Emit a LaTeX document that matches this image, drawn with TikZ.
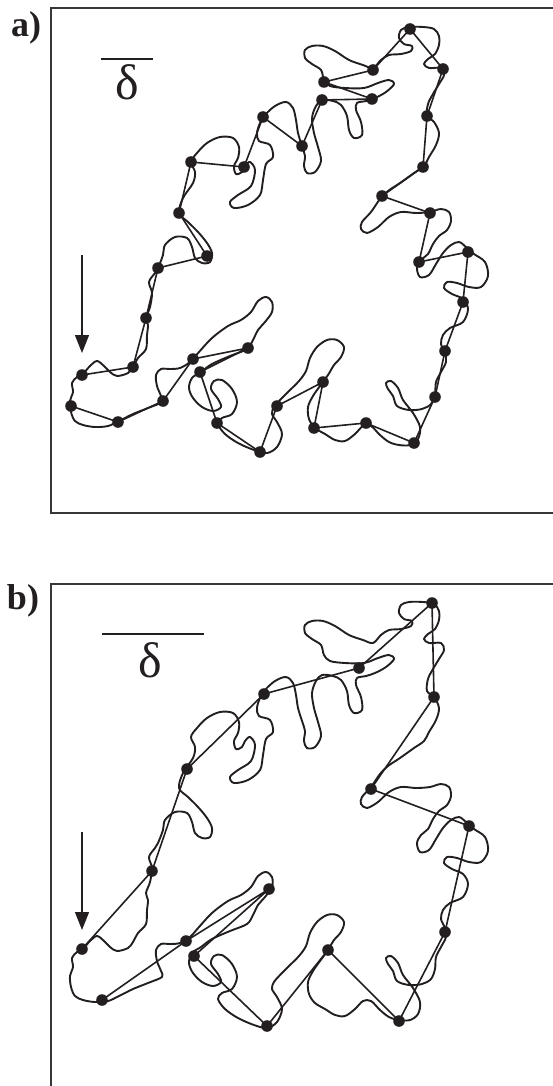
\documentclass[tikz,border=0pt]{standalone}
\usepackage{fontspec}
\setmainfont{Liberation Serif}
\usetikzlibrary{arrows.meta}
\definecolor{ink}{RGB}{35,31,32}
\definecolor{frame}{RGB}{55,55,55}
% closed outline of the coast, traced once and reused in both panels
\def\coastline{(82,375) (90,366) (97,361) (104,366) (110,372) (117,376) (128,373) (133,367)
(138,358) (146,349) (147,335) (148,325) (146,318) (150,307) (152,293) (149,282) (155,273) (158,268)
(163,255) (165,245) (175,237) (187,238) (192,247) (195,258) (202,263) (210,262) (212,253) (207,243)
(198,232) (188,222) (179,213) (183,198) (193,183) (195,172) (191,162)
(197,153) (207,143) (220,137) (233,138) (239,147) (238,158) (234,166) (236,174) (242,172) (245,166)
(250,162) (255,170) (251,186) (238,195) (230,202) (234,208) (248,205) (260,195) (263,180) (266,164)
(273,157) (270,145) (259,141) (257,133) (260,123) (265,115) (275,106) (286,102) (293,108) (296,120)
(298,133) (302,146) (305,156) (304,166) (307,173) (315,172) (321,161) (318,147) (314,133) (312,118)
(316,106) (322,100) (333,101) (341,105) (347,116) (349,130) (354,138) (362,135) (361,122) (356,110)
(357,103) (366,101) (375,98) (386,92) (394,84) (389,80) (378,83) (364,88) (345,88) (330,86) (324,80)
(321,70) (312,64) (305,58) (305,50) (312,46) (323,46) (335,51) (349,60) (363,65) (373,68) (381,60)
(389,55) (401,54) (411,51) (412,46) (404,44) (399,38) (401,30) (409,27) (423,27) (434,29) (439,36)
(439,45) (435,54) (428,59) (424,64) (429,68) (441,68) (444,75) (439,84) (433,94) (428,104) (427,116)
(434,122) (439,133) (436,145) (429,157) (424,166) (414,173) (400,183) (388,191) (380,199) (371,212)
(362,222) (361,229) (367,233) (378,227) (389,217) (401,212) (416,213) (430,212) (441,209) (449,212)
(451,221) (447,230) (439,236) (433,244) (428,254) (421,260) (417,268) (420,277) (429,275) (436,264)
(443,253) (451,245) (459,242) (466,247) (474,254) (485,262) (488,276) (481,287) (469,287) (457,283)
(447,282) (444,288) (452,294) (463,299) (468,309) (463,322) (450,328) (443,335) (441,344) (445,353)
(446,362) (441,372) (436,382) (435,394) (431,404) (422,409) (409,410) (397,406) (393,396) (388,389)
(386,383) (391,381) (398,388) (403,400) (413,413) (420,427) (418,439) (410,445) (399,445) (389,442)
(380,435) (371,426) (363,426) (355,434) (345,441) (335,440) (325,434) (315,428) (309,419) (308,407)
(313,396) (320,386) (328,375) (334,365) (341,357) (344,347) (337,340) (327,340) (317,347) (310,358)
(306,371) (299,381) (289,391) (281,399) (274,407) (272,414) (277,422) (282,434) (277,447) (267,453)
(254,450) (238,443) (225,434) (218,424) (222,418) (232,414) (237,402) (232,389) (222,380) (214,381)
(211,389) (218,399) (221,407) (213,411) (202,407) (193,398) (189,388) (192,378) (201,372) (212,364)
(230,356) (247,349) (253,340) (258,330) (265,322) (272,312) (272,302) (266,297) (258,301) (251,312)
(241,320) (228,326) (212,338) (199,352) (190,362) (180,368) (170,369) (161,369) (156,375) (157,386)
(161,396) (162,402) (148,408) (133,414) (119,421) (108,426) (95,427) (83,425) (75,421) (71,412)
(70,401) (73,392) (72,383) (77,377)}
\tikzset{
  coast/.style={ink, line width=1.9pt, line join=round},
  divider/.style={ink, line width=1.6pt, line join=round},
  box/.style={frame, line width=1.4pt},
  scalebar/.style={ink, line width=1.4pt},
  startarrow/.style={ink, line width=1.2pt, -{Triangle[length=18pt,width=14pt]}},
  panellabel/.style={font=\fontsize{36}{36}\selectfont\bfseries, text=ink, inner sep=0pt},
  deltalabel/.style={font=\fontsize{50}{50}\selectfont, text=ink, inner sep=0pt, anchor=base}
}
\begin{document}
\begin{tikzpicture}[x=1pt,y=-1pt]
\useasboundingbox (0,0) rectangle (552,1086);

% ---------- panel a ----------
\draw[box] (560,8) -- (51,8) -- (51,513) -- (560,513);
\node[panellabel] (labA) at (26,28) {a)};
\coordinate (barA1) at (101,59);
\coordinate (barA2) at (153,59);
\draw[scalebar] (barA1) -- (barA2);
\node[deltalabel] (deltaA) at (127,100) {δ};
\coordinate (arrA1) at (82,255);
\coordinate (arrA2) at (82,353);
\draw[startarrow] (arrA1) -- (arrA2);

\draw[coast] plot[smooth cycle, tension=0.55] coordinates {\coastline};

\foreach \n/\p in {1/{82,375},2/{133,367},3/{146,318},4/{158,268},5/{207,256},6/{179,213},
  7/{191,162},8/{244,167},9/{263,117},10/{302,146},11/{322,100},12/{372,99},13/{324,82},
  14/{373,70},15/{410,29},16/{443,69},17/{427,116},18/{423,167},19/{382,196},20/{430,213},
  21/{419,262},22/{468,252},23/{463,302},24/{445,351},25/{435,397},26/{414,443},27/{366,423},
  28/{314,428},29/{323,382},30/{277,406},31/{260,452},32/{217,423},33/{200,372},34/{248,348},
  35/{193,359},36/{163,401},37/{118,422},38/{71,406}}
  \coordinate (a\n) at (\p);
\draw[divider] (a1) \foreach \n in {2,...,38} { -- (a\n) };
\foreach \n in {1,...,38} \fill[ink] (a\n) circle (5.8pt);

% ---------- panel b ----------
\draw[box] (560,584) -- (51,584) -- (51,1095);
\node[panellabel] (labB) at (23,601) {b)};
\coordinate (barB1) at (102,634);
\coordinate (barB2) at (204,634);
\draw[scalebar] (barB1) -- (barB2);
\node[deltalabel] (deltaB) at (150,677) {δ};
\coordinate (arrB1) at (82,832);
\coordinate (arrB2) at (82,930);
\draw[startarrow] (arrB1) -- (arrB2);

\begin{scope}[shift={(0,575)}]
  \draw[coast] plot[smooth cycle, tension=0.55] coordinates {\coastline};
\end{scope}

\foreach \n/\p in {1/{82,949},2/{152,871},3/{187,769},4/{264,694},5/{359,668},6/{432,603},
  7/{434,697},8/{371,789},9/{469,826},10/{445,932},11/{399,1021},12/{328,950},13/{267,1026},
  14/{194,956},15/{269,889},16/{186,941},17/{102,1000}}
  \coordinate (b\n) at (\p);
\draw[divider] (b1) \foreach \n in {2,...,17} { -- (b\n) };
\foreach \n in {1,...,17} \fill[ink] (b\n) circle (5.8pt);
\end{tikzpicture}
\end{document}
